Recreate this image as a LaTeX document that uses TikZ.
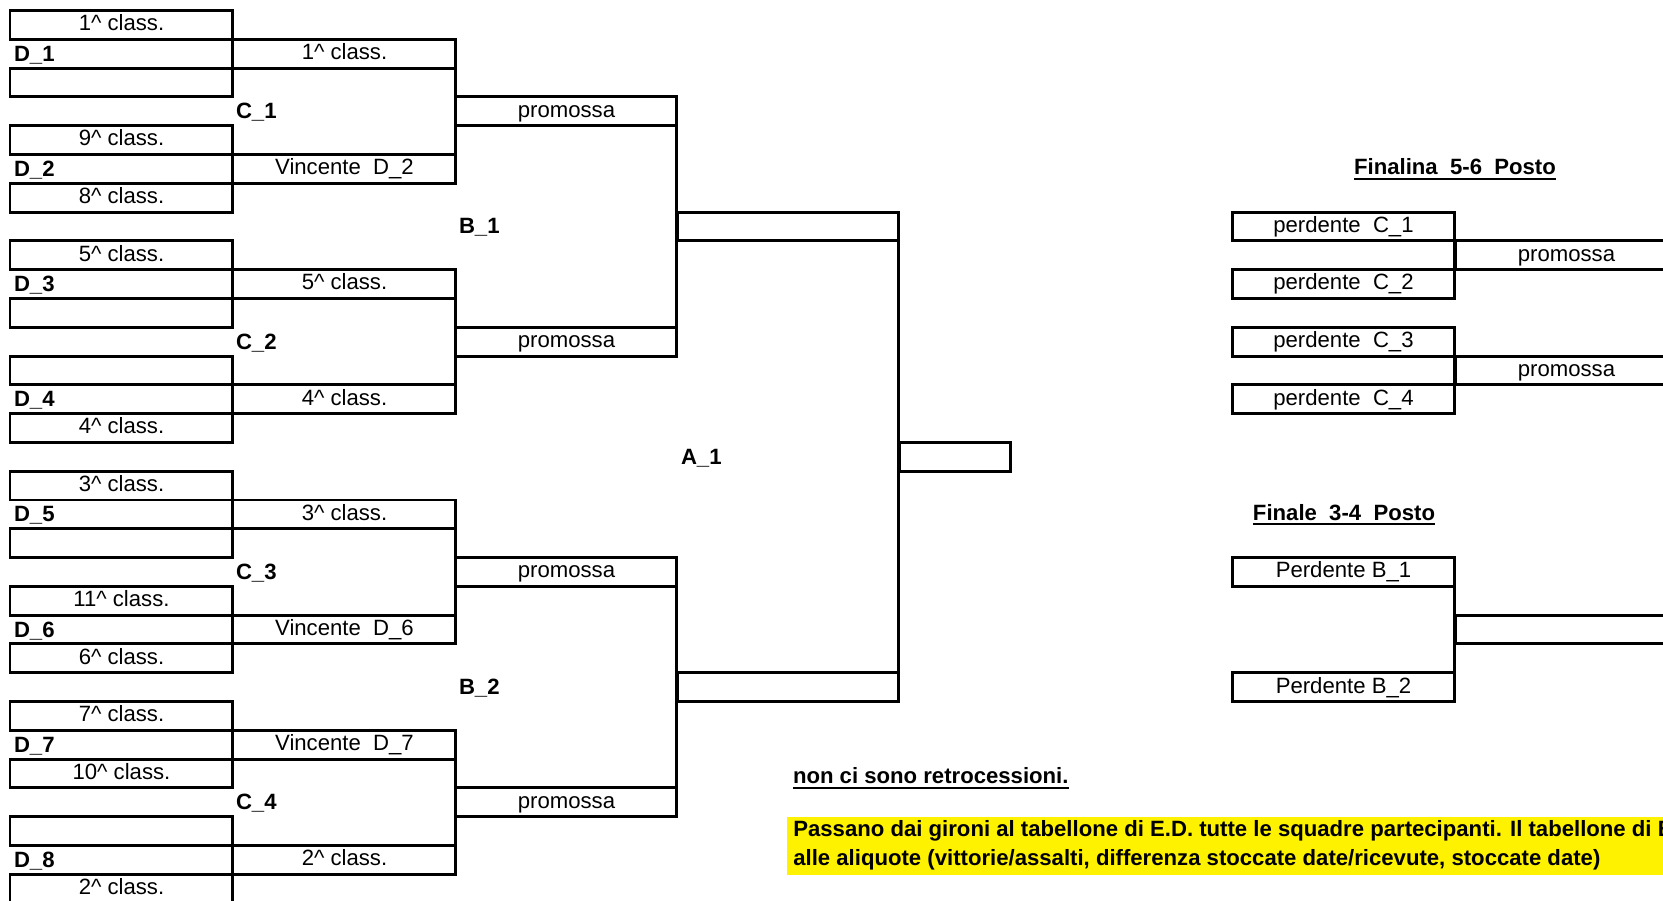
\documentclass[tikz,border=0pt]{standalone}
\usepackage{fontspec}
\setmainfont{Liberation Sans}
\newcommand\cellfont{\fontsize{12.6}{15}\selectfont}
\newcommand\sottolinea[1]{\setbox0\hbox{#1}\rlap{\rule[-2.9pt]{\wd0}{1.1pt}}\box0}
\tikzset{
  cella/.style={rectangle, draw, line width=1.7pt, anchor=north west, inner sep=0pt, outer sep=0pt,
                minimum width=4.46cm, minimum height=0.576cm, text height=0.316cm, text depth=0.08cm,
                font=\cellfont},
  cellab/.style={cella, minimum width=4.42cm},
  cellaa/.style={cella, minimum width=4.44cm},
  finale/.style={cella, minimum width=2.24cm},
  sigla/.style={anchor=north west, inner sep=0pt, outer sep=0pt, minimum height=0.576cm,
                text height=0.316cm, text depth=0.08cm, font=\cellfont\bfseries, yshift=-0.9pt},
  titolo/.style={sigla, anchor=north, yshift=0.9pt},
  linea/.style={line width=1.7pt},
  nota/.style={anchor=base west, inner sep=0pt, font=\cellfont\bfseries},
}
\begin{document}
\begin{tikzpicture}[x=0.02cm, y=-0.576cm]
    \useasboundingbox (0,-0.3646) rectangle (1663,30.92);
    \fill[white] (0,-0.3646) rectangle (1663,30.92);
    \clip (0,-0.3646) rectangle (1663,30.92);
    \node (d1a) [cella] at (10,0) {1\textasciicircum\ class.};
    \node (d1b) [cella] at (10,2) {};
    \node (d2a) [cella] at (10,4) {9\textasciicircum\ class.};
    \node (d2b) [cella] at (10,6) {8\textasciicircum\ class.};
    \node (d3a) [cella] at (10,8) {5\textasciicircum\ class.};
    \node (d3b) [cella] at (10,10) {};
    \node (d4a) [cella] at (10,12) {};
    \node (d4b) [cella] at (10,14) {4\textasciicircum\ class.};
    \node (d5a) [cella] at (10,16) {3\textasciicircum\ class.};
    \node (d5b) [cella] at (10,18) {};
    \node (d6a) [cella] at (10,20) {11\textasciicircum\ class.};
    \node (d6b) [cella] at (10,22) {6\textasciicircum\ class.};
    \node (d7a) [cella] at (10,24) {7\textasciicircum\ class.};
    \node (d7b) [cella] at (10,26) {10\textasciicircum\ class.};
    \node (d8a) [cella] at (10,28) {};
    \node (d8b) [cella] at (10,30) {2\textasciicircum\ class.};
    \node (c1a) [cella] at (233,1) {1\textasciicircum\ class.};
    \node (c1b) [cella] at (233,5) {Vincente\ \ D\_2};
    \node (c2a) [cella] at (233,9) {5\textasciicircum\ class.};
    \node (c2b) [cella] at (233,13) {4\textasciicircum\ class.};
    \node (c3a) [cella] at (233,17) {3\textasciicircum\ class.};
    \node (c3b) [cella] at (233,21) {Vincente\ \ D\_6};
    \node (c4a) [cella] at (233,25) {Vincente\ \ D\_7};
    \node (c4b) [cella] at (233,29) {2\textasciicircum\ class.};
    \node (b1a) [cellab] at (456,3) {promossa};
    \node (b1b) [cellab] at (456,11) {promossa};
    \node (b2a) [cellab] at (456,19) {promossa};
    \node (b2b) [cellab] at (456,27) {promossa};
    \node (a1a) [cellaa] at (677,7) {};
    \node (a1b) [cellaa] at (677,23) {};
    \node (fin) [finale] at (899,15) {};
    \draw[linea] (d1a.north east) -- (d1b.south east);
    \draw[linea] (d2a.north east) -- (d2b.south east);
    \draw[linea] (d3a.north east) -- (d3b.south east);
    \draw[linea] (d4a.north east) -- (d4b.south east);
    \draw[linea] (d5a.north east) -- (d5b.south east);
    \draw[linea] (d6a.north east) -- (d6b.south east);
    \draw[linea] (d7a.north east) -- (d7b.south east);
    \draw[linea] (d8a.north east) -- (d8b.south east);
    \draw[linea] (c1a.north east) -- (c1b.south east);
    \draw[linea] (c2a.north east) -- (c2b.south east);
    \draw[linea] (c3a.north east) -- (c3b.south east);
    \draw[linea] (c4a.north east) -- (c4b.south east);
    \draw[linea] (b1a.north east) -- (b1b.south east);
    \draw[linea] (b2a.north east) -- (b2b.south east);
    \draw[linea] (a1a.north east) -- (a1b.south east);
    \node (sd1) [sigla] at (14,1) {D\_1};
    \node (sd2) [sigla] at (14,5) {D\_2};
    \node (sd3) [sigla] at (14,9) {D\_3};
    \node (sd4) [sigla] at (14,13) {D\_4};
    \node (sd5) [sigla] at (14,17) {D\_5};
    \node (sd6) [sigla] at (14,21) {D\_6};
    \node (sd7) [sigla] at (14,25) {D\_7};
    \node (sd8) [sigla] at (14,29) {D\_8};
    \node (sc1) [sigla] at (236,3) {C\_1};
    \node (sc2) [sigla] at (236,11) {C\_2};
    \node (sc3) [sigla] at (236,19) {C\_3};
    \node (sc4) [sigla] at (236,27) {C\_4};
    \node (sb1) [sigla] at (459,7) {B\_1};
    \node (sb2) [sigla] at (459,23) {B\_2};
    \node (sa1) [sigla] at (681,15) {A\_1};
    % finali per il piazzamento
    \node (tit56) [titolo] at (1455,5) {\sottolinea{Finalina\ \ 5-6\ \ Posto}};
    \node (p1) [cella] at (1232,7) {perdente\ \ C\_1};
    \node (p2) [cella] at (1232,9) {perdente\ \ C\_2};
    \node (p3) [cella] at (1232,11) {perdente\ \ C\_3};
    \node (p4) [cella] at (1232,13) {perdente\ \ C\_4};
    \node (q1) [cella] at (1455,8) {promossa};
    \node (q2) [cella] at (1455,12) {promossa};
    \draw[linea] (p1.north east) -- (p2.south east);
    \draw[linea] (p3.north east) -- (p4.south east);
    \node (tit34) [titolo] at (1344,17) {\sottolinea{Finale\ \ 3-4\ \ Posto}};
    \node (pb1) [cella] at (1232,19) {Perdente B\_1};
    \node (pb2) [cella] at (1232,23) {Perdente B\_2};
    \node (f34) [cella] at (1455,21) {};
    \draw[linea] (pb1.north east) -- (pb2.south east);
    \node (retro) [sigla] at (793,26.1) {\sottolinea{non ci sono retrocessioni.}};
    \node (giallo) [fill=yellow, anchor=north west, inner sep=0pt, minimum width=18cm, minimum height=1.152cm] at (787,28) {};
    \node (nota1) [nota] at (793,28.69) {Passano dai gironi al tabellone di E.D. tutte le squadre partecipanti. Il tabellone di E};
    \node (nota2) [nota] at (793,29.69) {alle aliquote (vittorie/assalti, differenza stoccate date/ricevute, stoccate date)};
\end{tikzpicture}
\end{document}
